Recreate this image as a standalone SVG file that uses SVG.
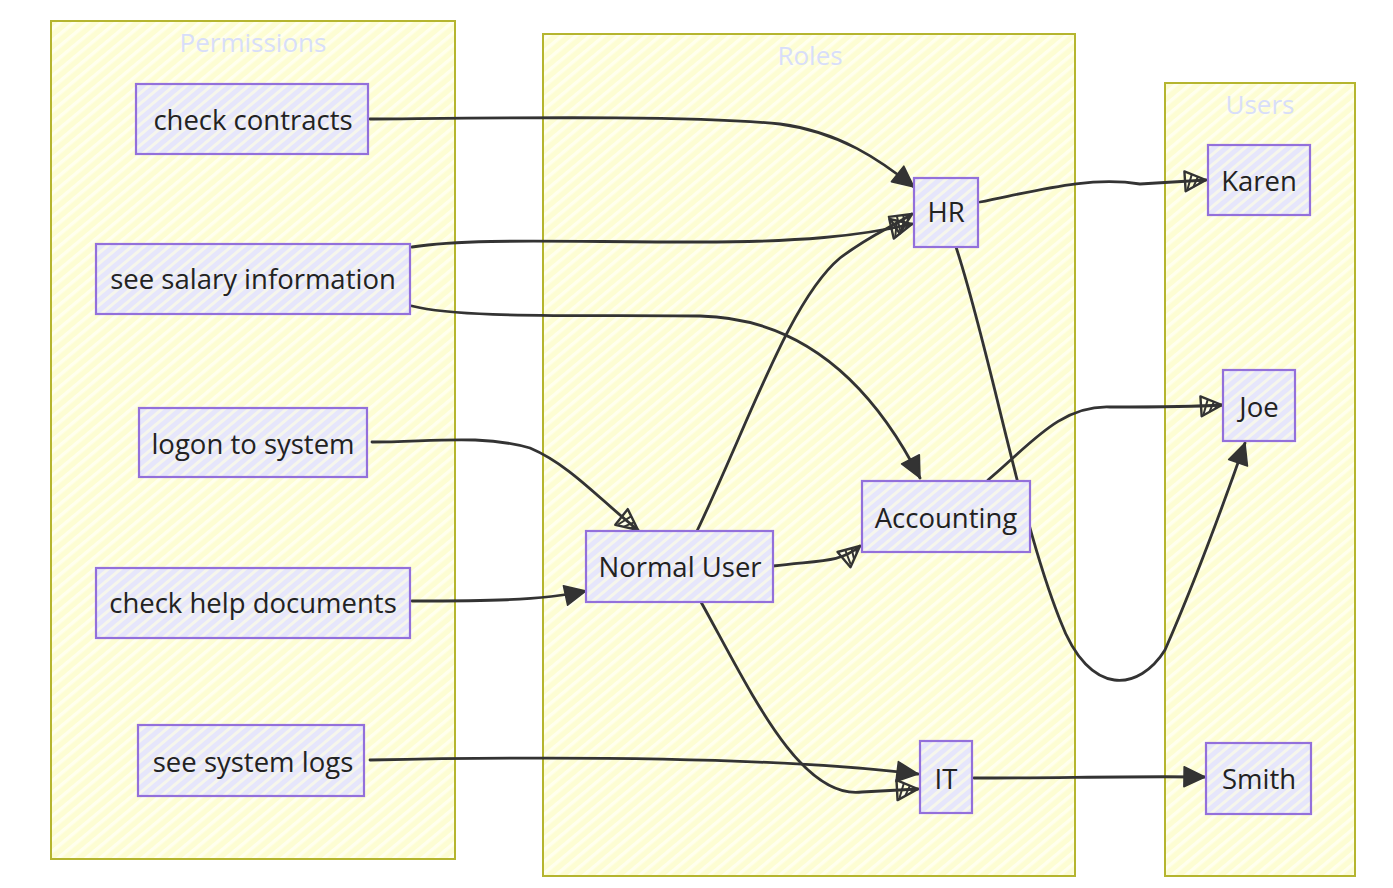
<svg xmlns="http://www.w3.org/2000/svg" width="1393" height="888" viewBox="0 0 1393 888">
<style>
.cl{fill:url(#hy);stroke:#b5b52f;stroke-width:2}
.ct{font-family:"Open Sans","DejaVu Sans",sans-serif;font-size:26px;fill:#d8defa;text-anchor:middle}
.nd{fill:url(#hn);stroke:#9370db;stroke-width:2.2}
.nt{font-family:"Open Sans","DejaVu Sans",sans-serif;font-size:27.5px;fill:#222;text-anchor:middle;dominant-baseline:central}
.e{fill:none;stroke:#333;stroke-width:2.8;stroke-linecap:round}
.s{marker-end:url(#as)}
.h{marker-end:url(#ah)}
</style>
<defs>
<pattern id="hy" width="9" height="9" patternUnits="userSpaceOnUse" patternTransform="rotate(-40)">
<rect width="9" height="9" fill="#fdfdd3"/>
<rect width="9" height="3.5" fill="#ffffee"/>
</pattern>
<pattern id="hn" width="8" height="8" patternUnits="userSpaceOnUse" patternTransform="rotate(-40)">
<rect width="8" height="8" fill="#e6e6fb"/>
<rect width="8" height="3" fill="#f6f6ec"/>
</pattern>
<marker id="as" markerWidth="30" markerHeight="30" refX="0" refY="0" markerUnits="userSpaceOnUse" orient="auto" overflow="visible">
<path d="M-21,-10 L0,0 L-21,10 Z" fill="#333" stroke="#333" stroke-width="1.5" stroke-linejoin="round"/>
</marker>
<marker id="ah" markerWidth="30" markerHeight="30" refX="0" refY="0" markerUnits="userSpaceOnUse" orient="auto" overflow="visible">
<g stroke="#333" fill="none">
<path d="M-21,-10 L0,0 L-21,10 Z" stroke-width="2.4" stroke-linejoin="round"/>
<path d="M-19,8 L-14,-6 M-13,6 L-8,-3.5 M-7,3 L-4,-1.5" stroke-width="2"/>
</g>
</marker>
</defs>
<rect width="1393" height="888" fill="#fff"/>
<g id="cluster-permissions">
<rect class="cl" x="51" y="21" width="404" height="838"/>
<text class="ct" x="253" y="52">Permissions</text>
</g>
<g id="cluster-roles">
<rect class="cl" x="543" y="34" width="532" height="842"/>
<text class="ct" x="810" y="65">Roles</text>
</g>
<g id="cluster-users">
<rect class="cl" x="1165" y="83" width="190" height="793"/>
<text class="ct" x="1260" y="114">Users</text>
</g>
<g id="connectors">
<path class="e s" d="M370,119 C500,118 690,115 780,124 C840,132 880,160 914,187"/>
<path class="e h" d="M412,247 C470,238 560,242 700,242 C800,242 860,236 912,224"/>
<path class="e s" d="M412,306 C460,318 560,315 700,316 C800,318 870,380 920,478"/>
<path class="e h" d="M372,442 C430,442 480,434 530,448 C570,465 600,500 638,530"/>
<path class="e s" d="M412,601 C480,601 540,601 586,591"/>
<path class="e s" d="M370,760 C520,757 760,755 918,774"/>
<path class="e h" d="M697,531 C750,420 790,300 840,258 C870,235 890,228 912,214"/>
<path class="e h" d="M773,566 C820,560 840,563 860,546"/>
<path class="e h" d="M701,602 C750,690 800,800 862,792 L918,789"/>
<path class="e h" d="M980,202 C1040,190 1090,176 1140,184 C1170,182 1190,181 1206,180"/>
<path class="e s" d="M956,247 C990,350 1020,520 1060,620 C1090,700 1140,690 1165,650 C1200,570 1225,500 1245,443"/>
<path class="e h" d="M988,480 C1030,445 1060,405 1110,407 C1160,407 1190,407 1222,405"/>
<path class="e s" d="M974,778 C1060,778 1130,776 1205,777"/>
</g>
<g id="node-check-contracts">
<rect class="nd" x="136" y="84" width="232" height="70"/>
<text class="nt" x="253" y="119">check contracts</text>
</g>
<g id="node-see-salary-information">
<rect class="nd" x="96" y="244" width="314" height="70"/>
<text class="nt" x="253" y="278">see salary information</text>
</g>
<g id="node-logon-to-system">
<rect class="nd" x="139" y="408" width="228" height="69"/>
<text class="nt" x="253" y="443">logon to system</text>
</g>
<g id="node-check-help-documents">
<rect class="nd" x="96" y="568" width="314" height="70"/>
<text class="nt" x="253" y="602">check help documents</text>
</g>
<g id="node-see-system-logs">
<rect class="nd" x="138" y="725" width="226" height="71"/>
<text class="nt" x="253" y="761">see system logs</text>
</g>
<g id="node-hr">
<rect class="nd" x="914" y="178" width="64" height="69"/>
<text class="nt" x="946" y="211">HR</text>
</g>
<g id="node-normal-user">
<rect class="nd" x="586" y="531" width="187" height="71"/>
<text class="nt" x="680" y="566">Normal User</text>
</g>
<g id="node-accounting">
<rect class="nd" x="862" y="481" width="168" height="71"/>
<text class="nt" x="946" y="517">Accounting</text>
</g>
<g id="node-it">
<rect class="nd" x="920" y="741" width="52" height="72"/>
<text class="nt" x="946" y="778">IT</text>
</g>
<g id="node-karen">
<rect class="nd" x="1208" y="145" width="102" height="70"/>
<text class="nt" x="1259" y="180">Karen</text>
</g>
<g id="node-joe">
<rect class="nd" x="1223" y="370" width="72" height="71"/>
<text class="nt" x="1259" y="406">Joe</text>
</g>
<g id="node-smith">
<rect class="nd" x="1206" y="743" width="105" height="71"/>
<text class="nt" x="1259" y="778">Smith</text>
</g>
</svg>
